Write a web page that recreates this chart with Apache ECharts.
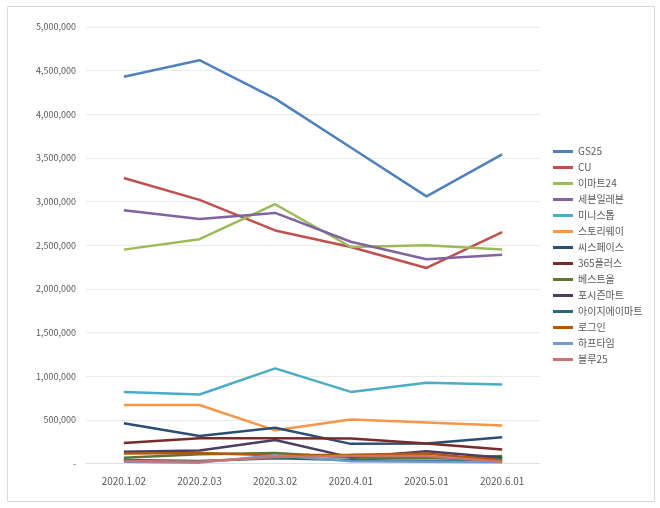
<!DOCTYPE html>
<html><head><meta charset="utf-8">
<script src="https://cdn.jsdelivr.net/npm/echarts@6/dist/echarts.min.js"></script>
<style>html,body{margin:0;padding:0;background:#fff}#c{width:660px;height:508px}</style>
</head><body><div id="c"></div>
<script>
const categories = ['2020.1.02','2020.2.03','2020.3.02','2020.4.01','2020.5.01','2020.6.01'];
const GS25 = [4430000, 4620000, 4180000, 3620000, 3060000, 3540000];
const CU = [3270000, 3020000, 2670000, 2480000, 2240000, 2650000];
const emart24 = [2450000, 2570000, 2970000, 2480000, 2500000, 2450000];
const sevenEleven = [2900000, 2800000, 2870000, 2540000, 2340000, 2390000];
const ministop = [820000, 790000, 1090000, 820000, 925000, 905000];
const storyway = [670000, 670000, 380000, 505000, 470000, 435000];
const cspace = [460000, 315000, 410000, 225000, 230000, 300000];
const plus365 = [235000, 290000, 290000, 285000, 230000, 160000];
const bestall = [65000, 105000, 120000, 70000, 60000, 85000];
const fourSeasons = [135000, 150000, 270000, 70000, 140000, 65000];
const igaMart = [40000, 30000, 60000, 40000, 30000, 50000];
const login = [115000, 120000, 95000, 100000, 115000, 35000];
const halftime = [20000, 10000, 95000, 25000, 20000, 15000];
const blue25 = [30000, 20000, 75000, 85000, 85000, 20000];

const seriesNames = ['GS25','CU','이마트24','세븐일레븐','미니스톱','스토리웨이','씨스페이스','365플러스','베스트올','포시즌마트','아이지에이마트','로그인','하프타임','블루25'];
const seriesData = [GS25, CU, emart24, sevenEleven, ministop, storyway, cspace, plus365, bestall, fourSeasons, igaMart, login, halftime, blue25];
const colors = ['#4F81BD','#C0504D','#9BBB59','#8064A2','#4BACC6','#F79646','#2C4D75','#772C2A','#5F7530','#4D3B62','#276A7C','#B65708','#729ACA','#CD7371'];

const chart = echarts.init(document.getElementById('c'));
chart.setOption({
  animation: false,
  color: colors,
  textStyle: {fontFamily: '"Noto Sans CJK KR", "Noto Sans", sans-serif'},
  graphic: [{type:'rect', shape:{x:7.5,y:6.5,width:647,height:495}, style:{fill:'none', stroke:'#d9d9d9', lineWidth:1}, silent:true}],
  grid: {left: 86, right: 120, top: 27, bottom: 44.5},
  legend: {
    orient: 'vertical', left: 548, top: 141,
    icon: 'rect', itemWidth: 20, itemHeight: 3, itemGap: 5,
    textStyle: {fontSize: 10, color: '#595959', lineHeight: 11},
    data: seriesNames
  },
  xAxis: {
    type: 'category', data: categories, boundaryGap: true,
    axisLine: {lineStyle: {color: '#e0e0e0'}}, axisTick: {show: false},
    axisLabel: {color: '#595959', fontSize: 10, margin: 13}
  },
  yAxis: {
    type: 'value', min: 0, max: 5000000, interval: 500000,
    axisLine: {show: false}, axisTick: {show: false},
    splitLine: {lineStyle: {color: '#eaeaea'}},
    axisLabel: {color: '#595959', fontSize: 9, margin: 10,
      formatter: v => v === 0 ? '-' : v.toLocaleString('en-US')}
  },
  series: seriesNames.map((n, i) => ({
    name: n, type: 'line', data: seriesData[i], symbol: 'none',
    lineStyle: {width: 2.5, color: colors[i]}, itemStyle: {color: colors[i]}
  }))
});
</script></body></html>
